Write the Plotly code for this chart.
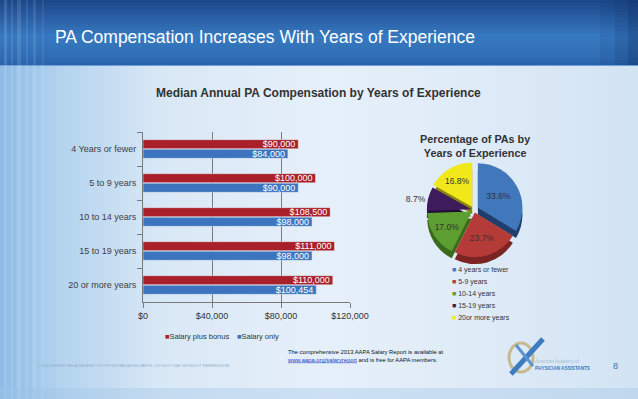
import plotly.graph_objects as go

W, H = 638, 399
def px(x): return x / W
def py(y): return 1 - y / H

# ---------------- data ----------------
categories = ["4 Years or fewer", "5 to 9 years", "10 to 14 years", "15 to 19 years", "20 or more years"]
salary_plus_bonus = [90000, 100000, 108500, 111000, 110000]
salary_only = [84000, 90000, 98000, 98000, 100454]
bar_series_names = ["Salary plus bonus", "Salary only"]
bar_colors = ["#a9202a", "#3c74bd"]
x_ticks = [0, 40000, 80000, 120000]

pie_labels = ["4 years or fewer", "5-9 years", "10-14 years", "15-19 years", "20or more years"]
pie_values = [33.6, 23.7, 17.0, 8.7, 16.8]
pie_colors = ["#4177bb", "#b53b38", "#5c9e2f", "#3d1b5c", "#f1e81c"]
pie_side_colors = ["#1f3e6c", "#7b2422", "#3a6a1b", "#200e36", "#8a8410"]
pie_pull = [0.10, 0.06, 0.06, 0.06, 0.08]
pie_textpos = ["inside", "inside", "inside", "outside", "inside"]

FONT = "Liberation Sans, Arial, sans-serif"

fig = go.Figure()

for vals, name, col in zip([salary_plus_bonus, salary_only], bar_series_names, bar_colors):
    fig.add_trace(go.Bar(
        y=categories, x=vals, name=name, orientation="h",
        marker=dict(color=col),
        text=[f"${v:,.0f}" for v in vals], textposition="inside",
        insidetextanchor="end", constraintext="none",
        textfont=dict(color="white", size=9, family=FONT),
        cliponaxis=False, hoverinfo="x+y", showlegend=False,
    ))

# pie side (3D-ish depth) and top
PX0, PX1 = 418, 530
fig.add_trace(go.Pie(
    labels=pie_labels, values=pie_values, sort=False, direction="clockwise", rotation=0,
    marker=dict(colors=pie_side_colors), pull=pie_pull, textinfo="none",
    showlegend=False, hoverinfo="skip",
    domain=dict(x=[px(PX0), px(PX1)], y=[py(266), py(168)]),
))
fig.add_trace(go.Pie(
    labels=pie_labels, values=pie_values, sort=False, direction="clockwise", rotation=0,
    marker=dict(colors=pie_colors), pull=pie_pull,
    texttemplate="%{value:.1f}%", textposition=pie_textpos,
    insidetextorientation="horizontal",
    textfont=dict(size=8.5, color="#333333", family=FONT),
    outsidetextfont=dict(size=8.5, color="#333333", family=FONT),
    showlegend=False,
    domain=dict(x=[px(PX0), px(PX1)], y=[py(259), py(161)]),
))

# ---------------- background decoration ----------------
shapes = []
def lerp(c1, c2, t):
    a = [int(c1[i:i+2], 16) for i in (1, 3, 5)]
    b = [int(c2[i:i+2], 16) for i in (1, 3, 5)]
    return "#%02x%02x%02x" % tuple(round(a[k] + (b[k] - a[k]) * t) for k in range(3))

def grad(stops, v):
    for (p0, c0), (p1, c1) in zip(stops, stops[1:]):
        if p0 <= v <= p1:
            return lerp(c0, c1, (v - p0) / (p1 - p0) if p1 > p0 else 0)
    return stops[-1][1]

body_stops = [(0, "#8cbbe6"), (60, "#b3d3ef"), (160, "#d9e8f6"), (330, "#e6f0fa"), (520, "#dce9f6"), (638, "#d2e3f3")]
step = 8
for x0 in range(0, W, step):
    shapes.append(dict(type="rect", xref="paper", yref="paper", layer="below",
                       x0=px(x0), x1=px(min(W, x0 + step + 1)), y0=0, y1=py(65),
                       fillcolor=grad(body_stops, x0 + step / 2), line=dict(width=0)))

head_stops = [(0, "#1c4789"), (14, "#27599f"), (36, "#3679c0"), (58, "#2f6cb4"), (65, "#2a62aa")]
hstep = 3
for y0 in range(0, 65, hstep):
    shapes.append(dict(type="rect", xref="paper", yref="paper", layer="below",
                       x0=0, x1=1, y0=py(min(65, y0 + hstep + 0.5)), y1=py(y0),
                       fillcolor=grad(head_stops, y0 + hstep / 2), line=dict(width=0)))
for x0, op in [(600, 0.08), (615, 0.14), (628, 0.22)]:
    shapes.append(dict(type="rect", xref="paper", yref="paper", layer="below",
                       x0=px(x0), x1=1, y0=py(65), y1=1, fillcolor="#0d2a5c",
                       opacity=op, line=dict(width=0)))
shapes.append(dict(type="line", xref="paper", yref="paper", layer="below",
                   x0=0, x1=1, y0=py(65.5), y1=py(65.5), line=dict(color="#6d9fd6", width=1)))
for x0, w, op in [(4, 3, 0.13), (11, 2, 0.10), (17, 4, 0.12), (26, 2, 0.09), (33, 3, 0.10), (42, 2, 0.07)]:
    shapes.append(dict(type="rect", xref="paper", yref="paper", layer="below",
                       x0=px(x0), x1=px(x0 + w), y0=0, y1=1, fillcolor="white",
                       opacity=op, line=dict(width=0)))
shapes.append(dict(type="rect", xref="paper", yref="paper", layer="below",
                   x0=0, x1=1, y0=0, y1=py(388), fillcolor="#9fc3e6", opacity=0.35, line=dict(width=0)))

# logo
shapes.append(dict(type="circle", xref="paper", yref="paper", layer="below",
                   x0=px(509), x1=px(533), y0=py(372), y1=py(343),
                   line=dict(color="#c7b98f", width=3)))
shapes.append(dict(type="line", xref="paper", yref="paper", layer="below",
                   x0=px(511), y0=py(374), x1=px(543), y1=py(339),
                   line=dict(color="#3d7cc0", width=5)))
shapes.append(dict(type="line", xref="paper", yref="paper", layer="below",
                   x0=px(516), y0=py(345), x1=px(533), y1=py(366),
                   line=dict(color="#5a95cf", width=3)))

def ann(text, x, y, size, color, xanchor="left", bold=False, align="left"):
    return dict(text=f"<b>{text}</b>" if bold else text, x=px(x), y=py(y),
                xref="paper", yref="paper", xanchor=xanchor, yanchor="middle",
                align=align, showarrow=False,
                font=dict(size=size, color=color, family=FONT))

annotations = [
    ann("PA Compensation Increases With Years of Experience", 53, 37, 17.5, "white"),
    ann("Median Annual PA Compensation by Years of Experience", 318, 93, 12, "#333333",
        xanchor="center", bold=True),
    ann("Percentage of PAs by<br>Years of Experience", 475, 146, 10.8, "#333333",
        xanchor="center", bold=True, align="center"),
    ann("The comprehensive 2013 AAPA Salary Report is available at<br>"
        "<span style='color:#1b3fc0;text-decoration:underline'>www.aapa.org/salaryreport</span>"
        " and is free for AAPA members.", 285, 356, 5.8, "#111111"),
    ann("© 2014 AMERICAN ACADEMY OF PHYSICIAN ASSISTANTS. DO NOT USE WITHOUT PERMISSION.",
        35, 365, 4.2, "#93adc8"),
    ann("American Academy of", 533, 361, 4.5, "#a6bdd3"),
    ann("PHYSICIAN ASSISTANTS", 533, 368, 4.6, "#3c7cbf", bold=True),
    ann("8", 615, 366, 9, "#3a6fb5", xanchor="center"),
]

# legends drawn as text (small square keys)
bar_leg_x = [163, 235]
for name, col, lx in zip(bar_series_names, bar_colors, bar_leg_x):
    annotations.append(ann(f"<span style='color:{col}'>■</span>{name}", lx, 336, 7.5, "#333333"))
for i, (lab, col) in enumerate(zip(pie_labels, pie_colors)):
    annotations.append(ann(f"<span style='color:{col}'>■</span> {lab}", 450, 270 + 12 * i, 7, "#333333"))

fig.update_layout(
    width=W, height=H, margin=dict(l=0, r=0, t=0, b=0, autoexpand=False),
    paper_bgcolor="#dbe9f6", plot_bgcolor="rgba(0,0,0,0)",
    font=dict(family=FONT, color="#333333"),
    barmode="group", bargap=0.44, bargroupgap=0.04,
    xaxis=dict(domain=[px(143), px(350)], range=[0, 120000], tickvals=x_ticks,
               tickformat="$,.0f", showgrid=True, gridcolor="#7a7a7a", gridwidth=1,
               zeroline=False, showline=True, linecolor="#7a7a7a", ticks="outside",
               ticklen=5, tickcolor="#7a7a7a", tickfont=dict(size=9, color="#333333"),
               fixedrange=True, automargin=False),
    yaxis=dict(domain=[py(302), py(132)], autorange="reversed", showline=True,
               linecolor="#7a7a7a", ticks="outside", ticklen=5, tickcolor="#7a7a7a",
               tickson="boundaries", showgrid=False, ticklabelstandoff=4,
               tickfont=dict(size=9, color="#404040"), fixedrange=True, automargin=False),
    shapes=shapes, annotations=annotations, showlegend=False,
)

fig.write_html("out.html", config={"displayModeBar": False},
               post_script="document.body.style.margin='0';document.body.style.overflow='hidden';")
